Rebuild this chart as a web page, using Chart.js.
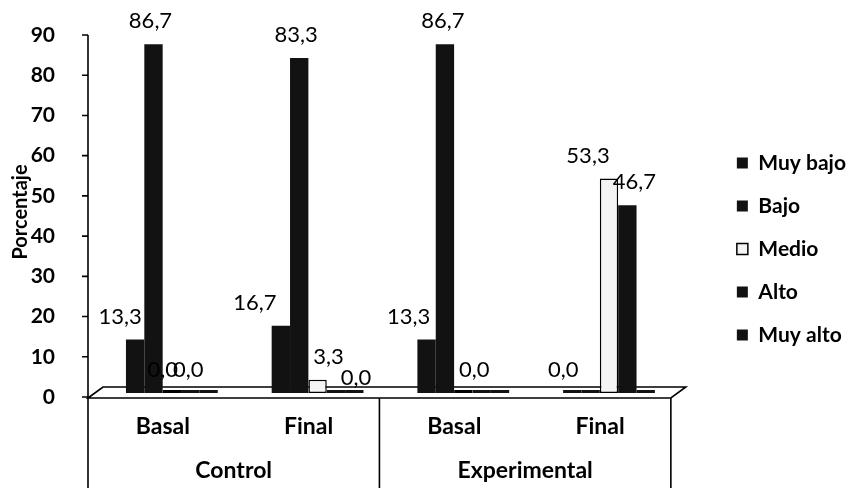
<!DOCTYPE html>
<html>
<head>
<meta charset="utf-8">
<script src="https://cdn.jsdelivr.net/npm/chart.js@4.4.1/dist/chart.umd.min.js"></script>
<style>
  html, body { margin: 0; padding: 0; background: #fff; }
</style>
</head>
<body>
<canvas id="chart" width="859" height="488"></canvas>
<script>
// Nivel por grupo y momento (porcentaje de alumnos)
const categories = ['Basal', 'Final', 'Basal', 'Final'];
const groups = ['Control', 'Experimental'];
const seriesNames = ['Muy bajo', 'Bajo', 'Medio', 'Alto', 'Muy alto'];

const muyBajo = [13.3, 16.7, 13.3, 0.0];
const bajo    = [86.7, 83.3, 86.7, 0.0];
const medio   = [0.0, 3.3, 0.0, 53.3];
const alto    = [0.0, 0.0, 0.0, 46.7];
const muyAlto = [0.0, 0.0, 0.0, 0.0];

const yTicks = [0, 10, 20, 30, 40, 50, 60, 70, 80, 90];

// label nudges [dx, dy] per bar, null = label not shown (overlapped in the original)
const labelNudge = [
  [[-15, 0], [-26, 0], [-18, 0], [-9, 0]],
  [[-3, 0], [-3, 0], [-2, 0], null],
  [[-9, 0], [11, 0], [11, 0], [-21, 0]],
  [[-2, 0], [20, 8], null, [7, 0]],
  [null, null, null, null]
];

Chart.defaults.font.family = 'Lato';
Chart.defaults.color = '#000';

const DARK = '#121212';

// floor, y axis line, category separators and the two-level x labels
const frame3d = {
  id: 'frame3d',
  beforeDatasetsDraw(chart) {
    const { ctx, chartArea: a, scales: { x, y } } = chart;
    const fl = a.left - 11, fr = a.right - 11, fy = a.bottom + 5;
    const mid = (x.getPixelForValue(1) + x.getPixelForValue(2)) / 2 - 11;
    ctx.save();
    ctx.strokeStyle = '#000';
    ctx.lineWidth = 1.6;
    ctx.beginPath();
    ctx.moveTo(fl, fy);
    ctx.lineTo(fl + 15, fy - 11);
    ctx.lineTo(fr + 15, fy - 11);
    ctx.lineTo(fr, fy);
    ctx.closePath();
    ctx.stroke();

    ctx.beginPath();
    ctx.moveTo(fl, y.getPixelForValue(90) + 4);
    ctx.lineTo(fl, chart.height);
    yTicks.forEach(v => {
      const py = y.getPixelForValue(v) + 4;
      ctx.moveTo(fl - 6, py);
      ctx.lineTo(fl, py);
    });
    ctx.moveTo(mid, fy);
    ctx.lineTo(mid, chart.height);
    ctx.moveTo(fr, fy);
    ctx.lineTo(fr, chart.height);
    ctx.stroke();

    ctx.fillStyle = '#000';
    ctx.font = 'bold 23px Lato';
    ctx.textAlign = 'center';
    ctx.textBaseline = 'middle';
    categories.forEach((c, i) => ctx.fillText(c, x.getPixelForValue(i) - 9, 427));
    ctx.fillText(groups[0], (fl + mid) / 2, 471);
    ctx.fillText(groups[1], (mid + fr) / 2, 471);
    ctx.restore();
  }
};

const valueLabels = {
  id: 'valueLabels',
  afterDatasetsDraw(chart) {
    const { ctx } = chart;
    const y = chart.scales.y;
    ctx.save();
    ctx.font = '22px Lato';
    ctx.fillStyle = '#000';
    ctx.textAlign = 'center';
    ctx.textBaseline = 'middle';
    chart.data.datasets.forEach((ds, di) => {
      chart.getDatasetMeta(di).data.forEach((bar, i) => {
        const n = labelNudge[di][i];
        if (!n) return;
        const v = ds.data[i];
        const text = v.toFixed(1).replace('.', ',');
        ctx.fillText(text, bar.x + n[0], y.getPixelForValue(v) - 23 + n[1]);
      });
    });
    ctx.restore();
  }
};

const seriesData = [muyBajo, bajo, medio, alto, muyAlto];

new Chart(document.getElementById('chart'), {
  type: 'bar',
  data: {
    labels: categories,
    datasets: seriesData.map((d, i) => ({
      label: seriesNames[i],
      data: d,
      xAxisID: 'x',
      yAxisID: 'y',
      backgroundColor: i === 2 ? '#f4f4f4' : DARK,
      borderColor: '#000',
      borderWidth: i === 2 ? 1.5 : 0,
      borderSkipped: false
    }))
  },
  options: {
    responsive: false,
    animation: false,
    layout: { padding: { left: 9, right: 3, top: 10, bottom: 0 } },
    datasets: {
      bar: { categoryPercentage: 0.63, barPercentage: 1, minBarLength: 3 }
    },
    plugins: {
      legend: {
        position: 'right',
        align: 'center',
        labels: {
          boxWidth: 11,
          boxHeight: 11,
          padding: 22,
          color: '#000',
          font: { family: 'Lato', weight: 'bold', size: 21 }
        }
      },
      tooltip: { enabled: false }
    },
    scales: {
      x: {
        display: true,
        grid: { display: false },
        border: { display: false },
        ticks: { display: false },
        afterFit(s) { s.height = 95; }
      },
      top: {
        type: 'linear',
        position: 'top',
        display: true,
        grid: { display: false },
        border: { display: false },
        ticks: { display: false },
        afterFit(s) { s.height = 21; }
      },
      y: {
        min: 0,
        max: 90,
        position: 'left',
        grid: { display: false, drawTicks: false },
        border: { display: false },
        afterBuildTicks(s) { s.ticks = yTicks.map(v => ({ value: v })); },
        ticks: {
          padding: 44,
          labelOffset: 4,
          color: '#000',
          font: { family: 'Lato', weight: 'bold', size: 21 }
        },
        title: {
          display: true,
          text: 'Porcentaje',
          color: '#000',
          padding: 0,
          font: { family: 'Lato', weight: 'bold', size: 20 }
        },
        afterFit(s) {
          s.width = 90;
          s.paddingTop = 0;
          s.paddingBottom = 0;
        }
      },
      right: {
        type: 'linear',
        position: 'right',
        display: true,
        grid: { display: false },
        border: { display: false },
        ticks: { display: false },
        afterFit(s) { s.width = 33; }
      }
    }
  },
  plugins: [frame3d, valueLabels]
});
</script>
</body>
</html>
